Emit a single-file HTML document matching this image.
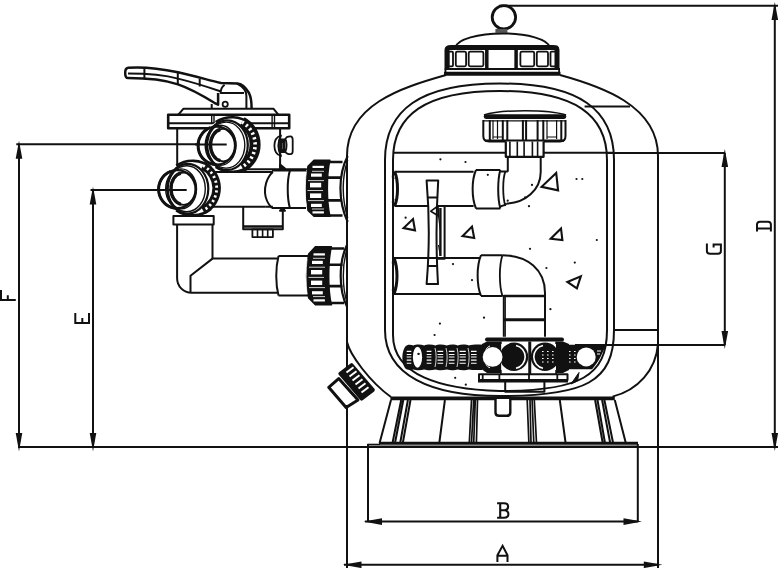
<!DOCTYPE html>
<html><head><meta charset="utf-8"><style>
html,body{margin:0;padding:0;background:#fff;width:778px;height:568px;overflow:hidden}
svg{display:block}
</style></head><body>
<svg width="778" height="568" viewBox="0 0 778 568">
<g fill="none" stroke="#111" stroke-width="2" stroke-linejoin="round">
<!-- TANK -->
<path d="M446 75 C400 88, 347 105, 347 156 L347 342 C350 355, 370 382, 391 397"/>
<path d="M560 75 C600 86, 658 105, 658 156 L658 343.8 C656 370, 638 390, 612.5 396.6"/>
<path d="M385 330 L385 160 C385 110, 420 83.5, 499.75 83.5 C580 83.5, 614 110, 614 160 L614 330 C614 382, 585 396, 500 396 C430 396, 385 375, 385 330Z"/>
<path d="M393 335 L393 160 C393 115, 425 91, 500 91 C575 91, 607 115, 607 160 L607 330 C607 376, 580 391, 500 391 C440 389.5, 393 375, 393 335Z"/>
<path d="M584.6 106.5H630"/>
<path d="M614 330H658"/>
<path d="M393 152.7H614"/>
<!-- END TANK -->
<!-- CAP -->
<circle cx="503.9" cy="17.3" r="11.7" stroke-width="2.8"/>
<rect x="495.4" y="29" width="12" height="3.8" fill="#555" stroke="none"/>
<path d="M455.7 47 A47 14.5 0 0 1 549.5 47"/>
<path d="M447 68.5 V50 C447 47.5, 448.5 47.5, 451 47.5 H553 C556 47.5, 557 47.5, 557 50 V68.5" stroke-width="5" stroke-linejoin="miter"/>
<path d="M444.5 68.9 H560" stroke-width="2"/>
<g stroke-width="1.8">
<rect x="448.5" y="51.7" width="4.5" height="14.6" rx="1"/>
<rect x="455.8" y="51.7" width="10.3" height="14.6" rx="1.5"/>
<rect x="468.7" y="51.7" width="14.7" height="14.6" rx="1.5"/>
<rect x="520.4" y="51.7" width="13.8" height="14.6" rx="1.5"/>
<rect x="536.8" y="51.7" width="11.2" height="14.6" rx="1.5"/>
<rect x="550.5" y="51.7" width="6" height="14.6" rx="1"/>
</g>
<path d="M486.8 48 V68.5 M516.1 48 V68.5" stroke-width="3.5"/>
<path d="M445.5 68.9 V73.5 M559.1 68.9 V73.5" stroke-width="1.8"/>
<path d="M444 73.7 H560.5" stroke-width="4"/>
<!-- END CAP -->
<!-- INTERNAL -->
<!-- distributor top cap -->
<path d="M483.3 120 V136 C483.3 139.5, 485 141.5, 489 141.5 H560 C564 141.5, 565.5 139.5, 565.5 136 V120" fill="#fff" stroke-width="2"/>
<path d="M483.9 114.9 C495 111.5, 510 110.7, 525 110.7 C540 110.7, 555 111.5, 566.1 114.9" stroke-width="1.5"/>
<path d="M486 116.6 H564" stroke-width="4.6" stroke-linecap="round"/>
<path d="M483.3 120.8 H565.5" stroke-width="1.2"/>
<path d="M489.8 120 V140 M502.8 120 V140 M507.3 120 V141.5 M522.9 120 V141.5 M526.1 120 V141.5 M537.6 120 V141.5 M543.3 120 V141.5 M561.3 120 V140" stroke-width="2"/>
<path d="M493 120 V139 M497.5 120 V139 M547 120 V139 M556.6 120 V139" stroke-width="1.2"/>
<path d="M493 137 H502.8 M547 137 H556.6" stroke-width="1.2"/>
<path d="M485 140.6 H564" stroke-width="2.4"/>
<path d="M505.8 141.5 V156.8 H543.6 V141.5" fill="#fff" stroke-width="2.2"/>
<path d="M509.9 141.5V156.8M517.3 141.5V156.8M524.1 141.5V156.8M532.4 141.5V156.8M537.6 141.5V156.8" stroke-width="1.6"/>
<!-- upper elbow -->
<path d="M507.8 156.8 V171.8 M540.7 156.8 V172 C540.7 190, 525 203, 506.8 203.5" fill="none"/>
<path d="M505.3 171.5 C502.5 180, 502.5 196, 505.3 206" stroke-width="1.8"/>
<path d="M394.5 171.7 H473.6 M394.5 206 H473.6" />
<path d="M394.5 171.7 C398.5 180, 398.5 198, 394.5 206" stroke-width="3"/>
<path d="M396 171.7 C392 175, 392 177, 394 179 M396 206 C392 203, 392 201, 394 199" stroke-width="2"/>
<path d="M476 170 H500.3 M476 208.5 H500.3 M476 170 C471.5 180, 471.5 198, 476 208.5" />
<path d="M500.3 170 C497.5 180, 497.5 198, 500.3 208.5" stroke-width="2"/>
<path d="M500.3 171.5 H507.8 M500.3 206.5 C503 206, 505 205, 506.8 203.5"/>
<!-- vertical bar -->
<path d="M426.6 180.6 H438.2 C436 215, 436 250, 438 284.1 H426.6 C429.5 250, 429.5 215, 426.6 180.6Z" fill="#fff"/>
<path d="M427.5 197.5 H437.5 M427.8 266.1 H437.3"/>
<path d="M438 206 H444.6 V258.7 H438"/>
<path d="M440.4 208 V256" stroke-width="2.4"/>
<path d="M438 206 L430.8 211.2 L438.5 216Z" stroke-width="1.6"/>
<path d="M438.5 216 L440.4 230 M438.5 245 L440.4 256" stroke-width="1.2"/>
<!-- lower pipe inside -->
<path d="M394 258.1 H480 M394 294 H480"/>
<path d="M394 258.1 C398 268, 398 284, 394 294" stroke-width="3"/>
<path d="M396 258.1 C392 261, 392 263, 394 265 M396 294 C392 291, 392 289, 394 287" stroke-width="2"/>
<path d="M481 255.2 H502.4 M481 295.9 H502.4 M481 255.2 C476.5 266, 476.5 285, 481 295.9"/>
<path d="M502.4 255.2 C499 266, 499 285, 502.4 295.9" stroke-width="1.8"/>
<path d="M502.4 255.2 C528 255.5, 545 270, 545 293 V336.7 M502.4 295.9 H503.8 V336.7"/>
<path d="M503.8 296 H545" stroke-width="2.6"/>
<path d="M503.8 319.7 H545" stroke-width="3"/><path d="M505.3 296 V336.7" stroke-width="1.2"/>
<!-- left lateral -->
<path d="M405 347 C407 344, 411 344.7, 413.4 345.5 C416 344.3, 421 344.3, 424.2 345.5 C427 344.3, 432 344.3, 435.5 345.5 C438 344.3, 443 344.3, 446.8 345.5 C450 344.3, 455 344.3, 457.6 345.5 C461 344.3, 466 344.3, 468.9 345.5 C472 344.5, 478 344.5, 482 344.7 V369.9 C478 370.2, 472 370.2, 468.9 369.4 C466 370.5, 461 370.5, 457.6 369.4 C455 370.5, 450 370.5, 446.8 369.4 C443 370.5, 438 370.5, 435.5 369.4 C432 370.5, 427 370.5, 424.2 369.4 C421 370.5, 416 370.5, 413.4 369.4 C411 370.2, 407 370.5, 405 368 C401.5 363, 401.5 352, 405 347Z" fill="#111" stroke="none"/>
<ellipse cx="417.5" cy="357.2" rx="4.6" ry="10.5" fill="#fff" stroke="none"/>
<circle cx="418.5" cy="354" r="1" fill="#111" stroke="none"/>
<g stroke="#fff" stroke-width="1.1">
<path d="M406.7 351.4h4.6M406.7 354.5h4.6M406.7 357h4.6M406.7 360.1h4.6M406.7 363.2h4.6"/>
<path d="M426.7 351.4h4.7M426.7 354.5h4.7M426.7 357h4.7M426.7 360.1h4.7M426.7 363.2h4.7"/>
<path d="M437.5 351.4h5.7M437.5 354.5h5.7M437.5 357h5.7M437.5 360.1h5.7M437.5 363.2h5.7"/>
<path d="M448.8 351.4h5.7M448.8 354.5h5.7M448.8 357h5.7M448.8 360.1h5.7M448.8 363.2h5.7"/>
<path d="M459.6 351.4h6.2M459.6 354.5h6.2M459.6 357h6.2M459.6 360.1h6.2M459.6 363.2h6.2"/>
<path d="M471 351.4h5.6M471 354.5h5.6M471 357h5.6M471 360.1h5.6M471 363.2h5.6"/>
</g>
<path d="M435 348 C436.5 353, 436.5 361, 435 367 M446 348 C447.5 353, 447.5 361, 446 367 M457 348 C458.5 353, 458.5 361, 457 367 M468 348 C469.5 353, 469.5 361, 468 367" stroke="#fff" stroke-width="0.8"/>
<!-- right lateral -->
<path d="M556 344.8 H606 C603 352, 599 362, 592 369.2 H556Z" fill="#111" stroke="none"/>
<circle cx="586.2" cy="356.9" r="9.5" fill="#fff" stroke="none"/>
<g stroke="#fff" stroke-width="1.1" stroke-dasharray="1.6 3.4">
<path d="M559 351.5H578M559 355H578M559 358.5H578M559 362H578"/>
</g>
<path d="M597 351H601M597 354H600" stroke="#fff" stroke-width="1"/>
<!-- hub -->
<path d="M482 344 L487 341.6 H501.4 V373 H487 L482 369.5 C479 361, 479 352, 482 344Z" fill="#111" stroke="none"/>
<path d="M556 341.6 H563 L569 344 V370 L563 373 H556Z" fill="#111" stroke="none"/>
<rect x="501.4" y="341.6" width="54.6" height="32" fill="#fff" stroke="none"/>
<path d="M487 339.6 H562" stroke-width="4" stroke-linecap="round"/>
<circle cx="514" cy="356.8" r="14.2" fill="#111" stroke="none"/>
<circle cx="545" cy="356.8" r="14.2" fill="#111" stroke="none"/>
<circle cx="492.6" cy="356.9" r="9.9" fill="#fff" stroke="none"/>
<path d="M486 349.5 C487 347.5, 488.5 346.5, 490 346 M486 364.3 C487 366.3, 488.5 367.3, 490 367.8" stroke="#fff" stroke-width="1"/>
<path d="M516 345.5 A11.6 11.6 0 0 1 516 368.2" stroke="#fff" stroke-width="1.6"/>
<path d="M543 345.5 A11.6 11.6 0 0 0 543 368.2" stroke="#fff" stroke-width="1.6"/>
<g stroke="#fff" stroke-width="1.1" stroke-dasharray="1.6 3.4">
<path d="M542 351.5H556M542 355H556M542 358.5H556M542 362H556"/>
</g>
<path d="M500.9 341.6V344 M500.9 370V374.3 M529 341.6V374.3 M530.5 341.6V374.3 M556 341.6V344 M556 370V374.3" stroke-width="1.5"/>
<path d="M479 374.3 H567.5 V380.1 H479Z" fill="#fff" stroke-width="2"/>
<path d="M482.7 374.3V380.1M499.4 374.3V380.1M529 374.3V380.1M557.3 374.3V380.1" stroke-width="1.8"/>
<path d="M478 381.3 H568" stroke-width="2.4"/>
<path d="M505.2 382 V391.7 H544.4 V382" stroke-width="2"/>
<path d="M571 384 L579 372.5 L577.5 381 Z" fill="#111" stroke-width="1"/>
<!-- triangles -->
<g stroke-width="2.1" stroke-linejoin="miter">
<path d="M556.2 172.9 L558.1 190.3 L541.6 186.8Z"/>
<path d="M561 228.4 L562.4 240 L550.7 238.7Z"/>
<path d="M580.8 276.4 L576.9 288.3 L567.4 282Z"/>
<path d="M413 219 L415 230.3 L403.6 228Z"/>
<path d="M472 226.6 L474.2 238 L462.6 236Z"/>
</g>
<g fill="#111" stroke="none"><circle cx="440.4" cy="159.3" r="1.1"/><circle cx="465.5" cy="162" r="1.1"/><circle cx="487.8" cy="174.8" r="1.1"/><circle cx="405.6" cy="217.7" r="1.1"/><circle cx="576.5" cy="179" r="1.1"/><circle cx="582.3" cy="179" r="1.1"/><circle cx="532" cy="184.9" r="1.1"/><circle cx="529" cy="206.2" r="1.1"/><circle cx="525.2" cy="197.4" r="1.1"/><circle cx="596.8" cy="240" r="1.1"/><circle cx="530" cy="248.8" r="1.1"/><circle cx="507.7" cy="200.7" r="1.1"/><circle cx="453" cy="264.1" r="1.1"/><circle cx="472" cy="280.1" r="1.1"/><circle cx="484" cy="317.7" r="1.1"/><circle cx="439.9" cy="323.6" r="1.1"/><circle cx="434.6" cy="335" r="1.1"/><circle cx="418.6" cy="353.8" r="1.1"/><circle cx="455.2" cy="377.8" r="1.1"/><circle cx="465.8" cy="384.7" r="1.1"/><circle cx="546.4" cy="268" r="1.1"/><circle cx="574.8" cy="262.6" r="1.1"/><circle cx="550.4" cy="309.2" r="1.1"/></g>
<!-- END INTERNAL -->
<!-- BASE -->
<path d="M390.4 398.4 H614.8" stroke-width="3.6"/>
<path d="M391 400 L379.6 443M401.2 400 L392.5 443M403.3 400 L395 443M407.9 400 L400.2 443M410.5 400 L402.8 443M444.9 400 L439.3 443" stroke-width="2"/>
<path d="M471.5 400 L469.3 443M473.7 400 L471.5 443M475.3 400 L473.7 443M477.5 400 L476.4 443M527.2 400 L528.9 443M530 400 L531 443M532.1 400 L533.8 443M534.3 400 L536.5 443" stroke-width="1.7"/>
<path d="M559.8 400 L565.6 443M595.1 400 L602.7 443M597.5 400 L605 443M602.1 400 L610.2 443M604.4 400 L613.1 443M614.8 400 L625.8 443" stroke-width="2"/>
<path d="M495.5 399 V412.5 C495.5 415, 497 415.8, 499 415.8 H506.8 C509 415.8, 510.3 415, 510.3 412.5 V399" fill="#fff" stroke-width="2.4"/>
<path d="M379 443.3 H638" stroke-width="3"/>
<path d="M367.3 444.5 H380" stroke-width="1.6"/>
<path d="M368 445.6 H638" stroke-width="1.2" stroke="#888"/>
<!-- END BASE -->
<!-- VALVE -->
<!-- handle -->
<path d="M128 67.8 C140 66.8, 160 68.5, 178 72.2 C195 76, 210 80.5, 221 83 L237.4 83.5 C243 84, 246 88, 249 93 C251.5 98, 251.6 102, 251.6 108.3" stroke-width="2.5"/>
<path d="M128 67.8 C124 68.5, 124.5 78, 128 78 C145 78, 165 80, 178 84.4 C190 88.5, 200 94, 214.3 102.8 L218.1 104.7 L218.1 93" stroke-width="2.5"/>
<path d="M128 73.5 C150 73.5, 165 75, 178 78.6 C190 81.5, 205 86, 221 91.5"/>
<path d="M144.4 67.3V78M177.8 72.2V84.4M199.7 78.8V86.5"/>
<path d="M224.6 84.8 C221.5 87, 220.7 90, 220.7 93.1 H244 M237 83.5 C242 86, 246.4 90, 246.4 96 V108.3"/>
<path d="M211.7 104V108.3"/>
<circle cx="225.2" cy="104.3" r="2.6" stroke-width="1.8"/>
<!-- lid -->
<path d="M178.2 114.8 L183.5 108.7 H273.4 L278.5 114.8"/>
<rect x="168.2" y="114.8" width="121" height="13.5" stroke-width="2.6"/>
<path d="M168.2 123.2H289.2" stroke-width="2"/>
<path d="M211.7 114.8V123.2M214 114.8V123.2M272.1 114.8V128.2M274.5 114.8V128.2" stroke-width="1.4"/>
<!-- body -->
<path d="M177.2 128.7V170M280.1 128.7V168"/>
<!-- knob -->
<path d="M281 135.5 C276 137, 274.4 141, 274.4 145.7 C274.4 150.5, 276 154.5, 281 156 C279 152, 278.3 149, 278.3 145.7 C278.3 142, 279 139, 281 135.5 Z" stroke-width="1.8"/>
<rect x="280.5" y="138.5" width="4.9" height="14.5" fill="#111" stroke="none"/><path d="M282.5 143V149" stroke="#555" stroke-width="1"/>
<path d="M285.4 139 C286 137, 288 136.3, 290.5 136.3 C292.5 136.3, 292.7 137.5, 292.7 140 V151 C292.7 153.5, 292 154.2, 290.5 154.2 C288 154.2, 286 153.5, 285.4 151.5 C287 148, 287 142, 285.4 139 Z" stroke-width="1.8"/>
<!-- T pipe -->
<path d="M244.6 169.2H306.8"/>
<path d="M212 172H267.2"/>
<path d="M212 206.7H265.8"/>
<path d="M272.9 172 C266 178, 264.5 188, 265 193 C265.5 199, 268 204, 272 208.1"/>
<path d="M265.8 172H272.9M265.8 206.7H272.9"/>
<path d="M272 170.6H306M272 208.1H306"/>
<path d="M289.9 170.6 C287 180, 287 198, 289.9 208.1"/>
<path d="M280.1 164.4 L285 168.5 L280.1 168.5Z M282.8 208 L285 210.8 L280 210.8Z" fill="#111"/>
<!-- bottom block -->
<path d="M243.2 206.7V229.3H282.8V209"/>
<path d="M243.2 226.5H282.8" stroke-width="2.5"/>
<rect x="252.4" y="229.3" width="20.5" height="7.8" stroke-width="1.8"/>
<path d="M257.5 229.3V237M262.6 229.3V237M267.7 229.3V237" stroke-width="1.6"/>
<!-- upper union -->
<path d="M314 160.2 H329.9 C326.5 175, 326.5 201, 329.9 216.3 H314 L308 210.4 C305.5 195, 305.5 180, 308 166.2Z" fill="#111" stroke="#111" stroke-width="1.5"/>
<g fill="#fff" stroke="none">
<rect x="312.5" y="165.8" width="11.4" height="2.2"/>
<rect x="311" y="173.5" width="10.8" height="3.2"/>
<rect x="310" y="182.8" width="11.2" height="4.6"/>
<rect x="310" y="193.4" width="11.2" height="4.6"/>
<rect x="311" y="203.8" width="10.8" height="3.2"/>
<rect x="312.5" y="211.3" width="11.4" height="2.2"/>
</g>
<path d="M312 171.3H324M308 180.6H324M307.5 190.5H323M308 200.6H324M312 209H324M306.3 172 C305 183, 305 197, 306.3 206" stroke="#fff" stroke-width="0.8"/>
<path d="M329 162 H342.5 M329 215.5 H342.5" stroke-width="2.6"/>
<path d="M327 177.6 H341 M327 200.4 H341" stroke-width="2.6"/>
<path d="M347.7 156 C338 175, 338 201, 347.7 222" stroke-width="2.2"/>
<path d="M347.7 160 C341.8 178, 341.8 198, 347.7 218" stroke-width="1.4"/>
<!-- lower pipe -->
<path d="M173.4 215.9 H213.7 V224.4 H173.4Z"/>
<path d="M177.1 224.4 V278 C177.1 286, 183 292.8, 191.7 292.8 H277.2"/>
<path d="M212.5 224.4 V258.6 H277.2"/>
<path d="M212.5 258.6 L190.5 275.7 V292.8"/>
<path d="M278.5 256.1 H308 M278.5 295.6 H308 M278.5 256.1 C275.5 268, 275.5 284, 278.5 295.6"/>
<!-- lower union -->
<path d="M315.4 246.7 H331.4 C327.8 262, 327.8 290, 331.4 304.8 H315.4 L308.7 298 C306 284, 306 268, 308.7 254Z" fill="#111" stroke="#111" stroke-width="1.5"/>
<g fill="#fff" stroke="none">
<rect x="313.5" y="253.3" width="11.4" height="2.2"/>
<rect x="312" y="260.8" width="10.8" height="3.2"/>
<rect x="311" y="270" width="11.2" height="4.4"/>
<rect x="311" y="280.6" width="11.2" height="4.4"/>
<rect x="312" y="291.2" width="10.8" height="3.2"/>
<rect x="313.5" y="299.3" width="11.4" height="2.2"/>
</g>
<path d="M313 258.3H325M309 267.2H325M308.5 277.4H324M309 287.6H325M313 296.6H325M307 259 C305.8 270, 305.8 284, 307 294" stroke="#fff" stroke-width="0.8"/>
<path d="M330 248.5 H344 M330 303 H344" stroke-width="2.6"/>
<path d="M328.5 264.7 H342.5 M328.5 286.1 H342.5" stroke-width="2.6"/>
<path d="M347.2 244.5 C338.5 262, 338.5 290, 347.2 307" stroke-width="2.2"/>
<path d="M347.2 248.5 C342 265, 342 287, 347.2 303" stroke-width="1.4"/>
<!-- upper port -->
<ellipse cx="232.0" cy="144.5" rx="28.5" ry="27.3" fill="#fff" stroke="none"/>
<path d="M215.7 122.1 A28.5 27.3 0 0 1 250.3 123.6" stroke-width="2.6"/>
<path d="M250.3 165.4 A28.5 27.3 0 0 1 215.7 166.9" stroke-width="2.6"/>
<path d="M241.9 122.0 A25 25.5 0 0 1 241.9 167.0" stroke-width="11"/>
<path d="M241.9 122.0 A25 25.5 0 0 1 241.9 167.0" stroke="#fff" stroke-width="3.6" stroke-dasharray="2.2 2.8"/>
<ellipse cx="227.2" cy="145.1" rx="20.6" ry="24.8" fill="#fff" stroke-width="2.2"/>
<ellipse cx="226.2" cy="145.1" rx="18.6" ry="23" stroke-width="1.4"/>
<ellipse cx="216.6" cy="145.6" rx="18.4" ry="19" stroke-width="2.2"/>
<path d="M216.6 164.6 A18.4 19 0 0 1 210.3 127.7" stroke-width="3"/>
<ellipse cx="220.6" cy="145.3" rx="15.4" ry="20" stroke-width="1.4"/>
<ellipse cx="223.2" cy="145.1" rx="12.4" ry="16.2" stroke-width="1.8"/>
<path d="M220.4 160.7 A11.8 15.8 0 0 1 220.4 129.5" stroke-width="3.4"/>
<path d="M195 144.5H226.7"/>
<!-- lower port -->
<ellipse cx="192.5" cy="188.1" rx="28.5" ry="27.3" fill="#fff" stroke="none"/>
<path d="M176.2 165.7 A28.5 27.3 0 0 1 210.8 167.2" stroke-width="2.6"/>
<path d="M210.8 209.0 A28.5 27.3 0 0 1 176.2 210.5" stroke-width="2.6"/>
<path d="M202.9 165.6 A26 25.5 0 0 1 202.9 210.6" stroke-width="8.5"/>
<path d="M202.9 165.6 A26 25.5 0 0 1 202.9 210.6" stroke="#fff" stroke-width="2.8" stroke-dasharray="2.2 2.8"/>
<ellipse cx="187.7" cy="188.7" rx="20.6" ry="24.8" fill="#fff" stroke-width="2.2"/>
<ellipse cx="186.7" cy="188.7" rx="18.6" ry="23" stroke-width="1.4"/>
<ellipse cx="177.1" cy="189.2" rx="18.4" ry="19" stroke-width="2.2"/>
<path d="M177.1 208.2 A18.4 19 0 0 1 170.8 171.3" stroke-width="3"/>
<ellipse cx="181.1" cy="188.9" rx="15.4" ry="20" stroke-width="1.4"/>
<ellipse cx="183.7" cy="188.7" rx="12.4" ry="16.2" stroke-width="1.8"/>
<path d="M180.9 204.3 A11.8 15.8 0 0 1 180.9 173.1" stroke-width="3.4"/>
<path d="M150 190H186.7"/>
<!-- drain valve -->
<path d="M328.7 387.3 L338.7 378.6 L358 400 L346.1 407.5Z" fill="#fff" stroke-width="3" stroke-linejoin="round"/>
<path d="M338.7 378.6 L353 395" stroke-width="1.5"/>
<path d="M340.1 373.6 L351.6 364.9 L373.1 390 L361.6 398.8Z" fill="#111" stroke-width="3.5" stroke-linejoin="round"/>
<path d="M346.5 372.5L353.5 367.3M349.5 376.5L356.5 371.3M352.5 380.5L359.5 375.3M355.5 384.5L362.5 379.3M358.5 388.5L365.5 383.3M361.5 392.5L368.5 387.3" stroke="#fff" stroke-width="2"/>
<!-- END VALVE -->
<!-- LETTERS -->
<g stroke-width="2" stroke-linecap="butt" stroke-linejoin="miter">
<path d="M0 300.1 H15.8 M1 290 V300.1 M7.8 295.3 V300.1"/>
<path d="M75.3 312.9 V323 H89 V312.9 M82.3 318 V323"/>
<path d="M706.9 243.6 V251 Q706.9 253.8 710 253.8 H718 Q720.9 253.8 720.9 251 V244.5 H713.6 V247.6"/>
<path d="M757 231.4 V224.5 Q757 221.7 760 221.7 H768 Q770.9 221.7 770.9 224.5 V231.4 M757 228.5 H770.9"/>
<path d="M497.4 562 V555.3 L502.6 545.8 L507.5 555.3 V562 M497.4 555.8 H507.5"/>
</g>
<path d="M497.1 503.3 H504 C507 503.3, 508.1 505, 508.1 506.7 C508.1 508.5, 507 510, 504.5 510.2 C507.5 510.5, 508.4 512.5, 508.4 514.3 C508.4 516.3, 507 517.7, 504 517.7 H497.1 M500.2 503.3 V517.7 M500.2 510.2 H504.5" stroke-width="2.1"/>
<!-- END LETTERS -->
<!-- DIM -->
<path d="M499 5.8H778"/>
<path d="M774.8 5.8V447"/>
<path d="M18 447H778"/>
<path d="M16.3 144.3H200"/>
<path d="M19 144V447"/>
<path d="M90.5 190H160"/>
<path d="M93 190V447"/>
<path d="M607 153H725"/>
<path d="M575 345H725"/>
<path d="M724.8 153V345"/>
<path d="M347 342V367M347 405V568"/>
<path d="M658 343V568"/>
<path d="M368 444V521.6"/>
<path d="M637.8 444V521.6"/>
<path d="M365 521.6H637.8"/>
<path d="M344 564.8H658"/>
<!-- END DIM -->
</g>
<g fill="#111" stroke="none">
<path d="M19 140.8L15.7 158.8H22.3Z"/>
<path d="M19 451.2L15.7 433H22.3Z"/>
<path d="M93 186.5L89.7 204.5H96.3Z"/>
<path d="M93 451.2L89.7 433H96.3Z"/>
<path d="M724.8 149L721.5 167H728.1Z"/>
<path d="M724.8 349L721.5 331H728.1Z"/>
<path d="M774.8 2L771.5 20H778.1Z"/>
<path d="M774.8 451L771.5 433H778.1Z"/>
<path d="M363.5 521.6L382 518.3V524.9Z"/>
<path d="M642 521.6L623.5 518.3V524.9Z"/>
<path d="M342.8 564.8L361.5 561.5V568.1Z"/>
<path d="M662.5 564.8L643.8 561.5V568.1Z"/>
</g>
</svg>
</body></html>
